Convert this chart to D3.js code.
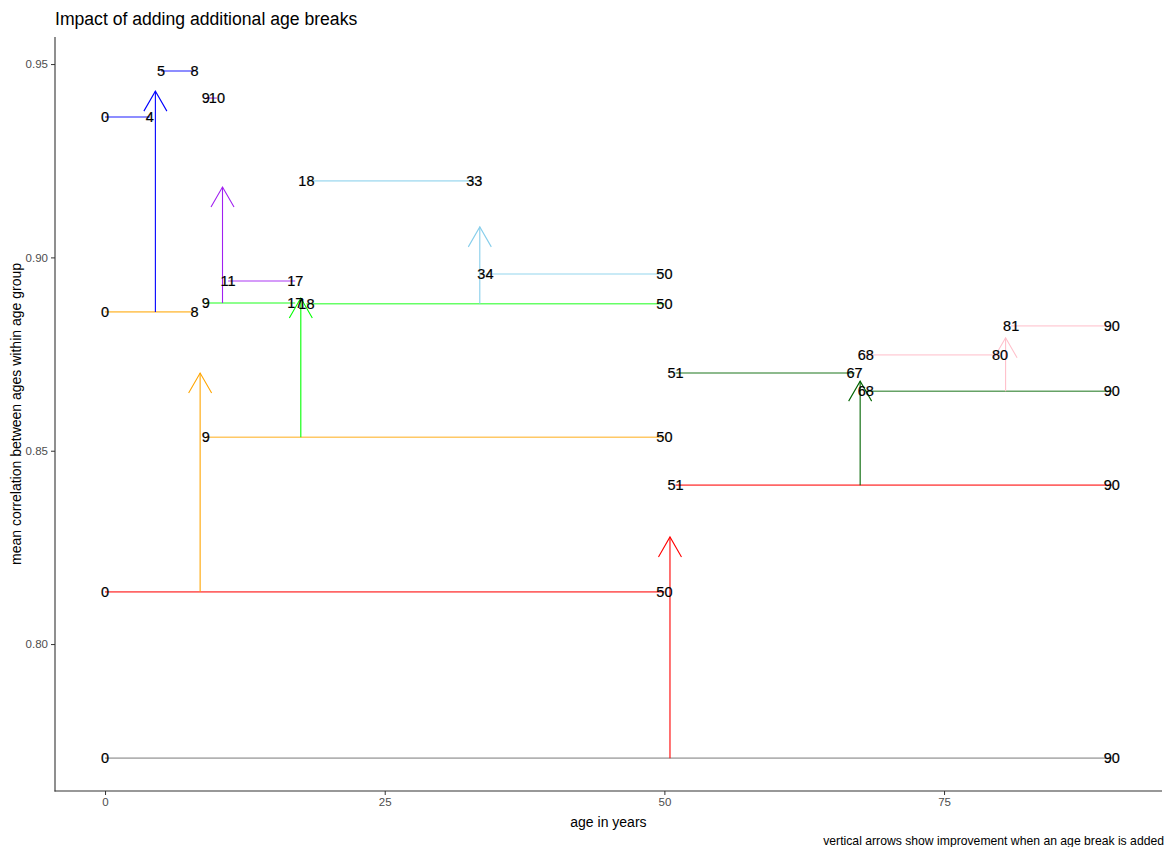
<html>
  <head>
    <script src="https://cdn.jsdelivr.net/npm/d3@7" charset="UTF-8"></script>
    <style>
      body { margin: 0; background: #fff; }
      text { font-family: "Liberation Sans", Arial, sans-serif; }
    </style>
  </head>
  <body>
    <svg width="1164" height="847"></svg>

    <script type="text/javascript">
      // horizontal segments: one row per age group, at each stage of splitting
      var segGroup = ["base", "s50", "s50", "s8", "s8", "s4", "s4", "s17", "s17",
                      "s10", "s10", "s33", "s33", "s67", "s67", "s80", "s80"];
      var segFrom  = [0, 0, 51, 0, 9, 0, 5, 9, 18, 9, 11, 18, 34, 51, 68, 68, 81];
      var segTo    = [90, 50, 90, 8, 50, 4, 8, 17, 50, 10, 17, 33, 50, 67, 90, 80, 90];
      var segCorr  = [0.7705, 0.8135, 0.8411, 0.8859, 0.8535, 0.9363, 0.9482, 0.8882, 0.8880,
                      0.9412, 0.8939, 0.9198, 0.8957, 0.8701, 0.8654, 0.8748, 0.8823];

      // vertical arrows: improvement when a break is added
      var arrowGroup = ["s50", "s8", "s4", "s17", "s10", "s33", "s67", "s80"];
      var arrowAge   = [50.5, 8.5, 4.5, 17.5, 10.5, 33.5, 67.5, 80.5];
      var arrowFrom  = [0.7705, 0.8135, 0.8859, 0.8535, 0.8882, 0.8880, 0.8411, 0.8654];
      var arrowTo    = [0.8277, 0.8701, 0.9430, 0.8895, 0.9182, 0.9079, 0.8680, 0.8792];

      var groups = ["base", "s50", "s8", "s4", "s17", "s10", "s33", "s67", "s80"];
      var groupColors = ["#7f7f7f", "#ff0000", "#ffa500", "#0000ff", "#00ff00",
                         "#a020f0", "#87ceeb", "#006400", "#ffc0cb"];

      var xTicks = [0, 25, 50, 75];
      var yTicks = [0.80, 0.85, 0.90, 0.95];

      var svg = d3.select('svg');

      var x = d3.scaleLinear().domain([-4.5, 94.5]).range([54.7, 1162.2]);
      var y = d3.scaleLinear().domain([0.762, 0.957]).range([791, 37]);
      var color = d3.scaleOrdinal().domain(groups).range(groupColors);

      var segs = segFrom.map(function(d, i) {
        return { g: segGroup[i], from: d, to: segTo[i], v: segCorr[i] };
      });
      var arrows = arrowAge.map(function(d, i) {
        return { g: arrowGroup[i], age: d, from: arrowFrom[i], to: arrowTo[i] };
      });

      // axes
      var xAxis = d3.axisBottom(x).tickValues(xTicks).tickSize(4).tickPadding(3)
        .tickFormat(d3.format('d'));
      var yAxis = d3.axisLeft(y).tickValues(yTicks).tickSize(4).tickPadding(3)
        .tickFormat(d3.format('.2f'));

      var gx = svg.append('g').attr('transform', 'translate(0,791)').call(xAxis);
      var gy = svg.append('g').attr('transform', 'translate(55,0)').call(yAxis);
      [gx, gy].forEach(function(g) {
        g.select('.domain').remove();
        g.selectAll('.tick line').attr('stroke', '#333');
        g.selectAll('.tick text').attr('fill', '#4d4d4d').style('font-size', '11.5px')
          .style('font-family', '"Liberation Sans", Arial, sans-serif');
      });
      svg.append('line').attr('x1', 55).attr('x2', 55).attr('y1', 37).attr('y2', 791.5)
        .attr('stroke', '#333').attr('stroke-width', 1.1);
      svg.append('line').attr('x1', 54.5).attr('x2', 1162).attr('y1', 791).attr('y2', 791)
        .attr('stroke', '#333').attr('stroke-width', 1.1);

      // horizontal segments
      svg.append('g').selectAll('line').data(segs).enter().append('line')
        .attr('x1', function(d) { return x(d.from); })
        .attr('x2', function(d) { return x(d.to); })
        .attr('y1', function(d) { return y(d.v); })
        .attr('y2', function(d) { return y(d.v); })
        .attr('stroke', function(d) { return color(d.g); })
        .attr('stroke-opacity', 0.6)
        .attr('stroke-width', 1.6);

      // arrows
      var ag = svg.append('g').selectAll('g').data(arrows).enter().append('g')
        .attr('stroke', function(d) { return color(d.g); })
        .attr('stroke-width', 1.1)
        .attr('fill', 'none');
      ag.append('line')
        .attr('x1', function(d) { return x(d.age); })
        .attr('x2', function(d) { return x(d.age); })
        .attr('y1', function(d) { return y(d.from); })
        .attr('y2', function(d) { return y(d.to); });
      ag.append('path')
        .attr('d', function(d) {
          var tx = x(d.age), ty = y(d.to);
          return 'M' + (tx - 11.5) + ',' + (ty + 20) + 'L' + tx + ',' + ty + 'L' + (tx + 11.5) + ',' + (ty + 20);
        });

      // labels at both ends of every segment
      var labels = [];
      segs.forEach(function(d) {
        labels.push({ age: d.from, v: d.v });
        labels.push({ age: d.to, v: d.v });
      });
      svg.append('g').selectAll('text').data(labels).enter().append('text')
        .attr('x', function(d) { return x(d.age); })
        .attr('y', function(d) { return y(d.v); })
        .attr('dy', '0.36em')
        .attr('text-anchor', 'middle')
        .attr('fill', '#000')
        .attr('stroke', '#000')
        .attr('stroke-width', 0.2)
        .style('font-size', '14.5px')
        .text(function(d) { return d.age; });

      // titles
      svg.append('text').attr('x', 55).attr('y', 25).attr('fill', '#000')
        .style('font-size', '17.6px').text('Impact of adding additional age breaks');
      svg.append('text').attr('x', (54.7 + 1162.2) / 2).attr('y', 827).attr('text-anchor', 'middle')
        .attr('fill', '#000').style('font-size', '14px').text('age in years');
      svg.append('text').attr('transform', 'translate(21,414) rotate(-90)').attr('text-anchor', 'middle')
        .attr('fill', '#000').style('font-size', '14px')
        .text('mean correlation between ages within age group');
      svg.append('text').attr('x', 1164).attr('y', 845).attr('text-anchor', 'end')
        .attr('fill', '#000').style('font-size', '12.2px')
        .text('vertical arrows show improvement when an age break is added');
    </script>
  </body>
</html>
